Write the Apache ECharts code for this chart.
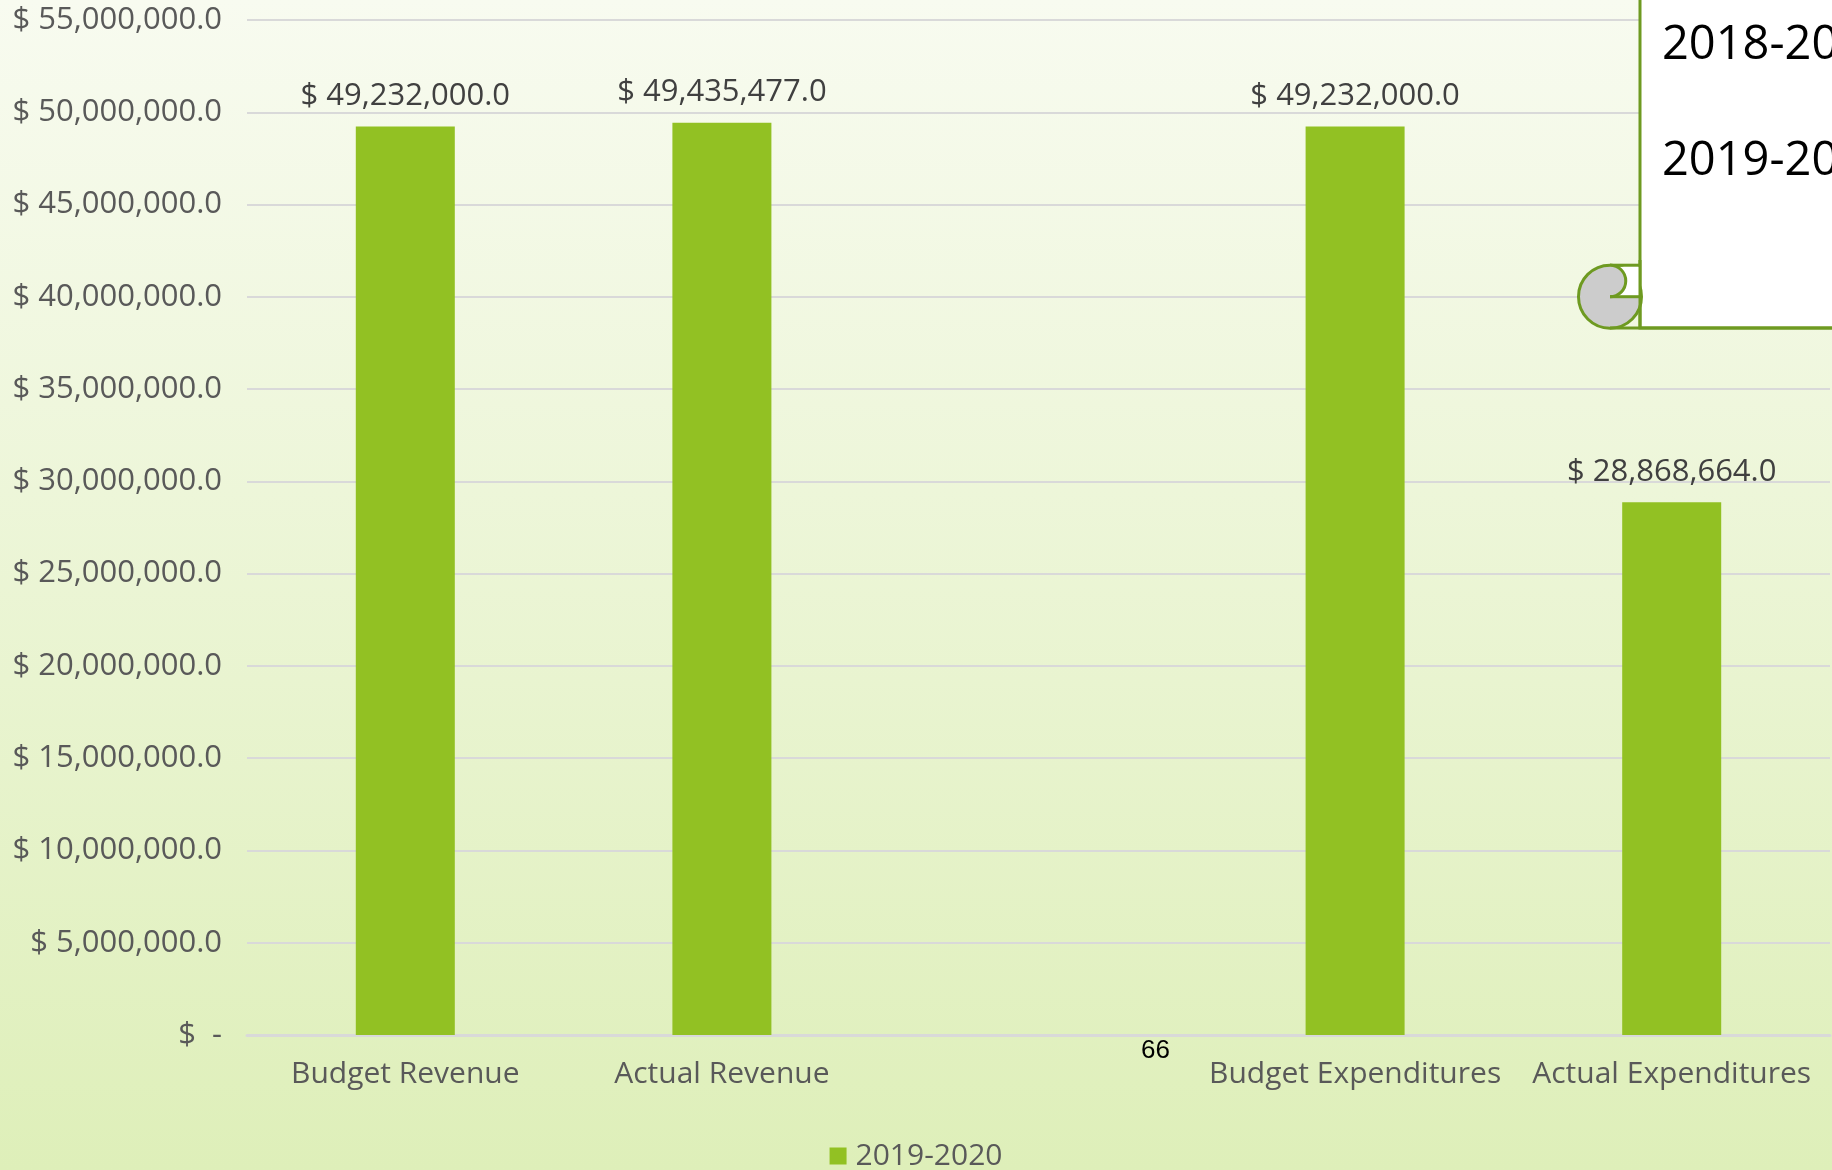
<!DOCTYPE html>
<html>
<head>
<meta charset="utf-8">
<script src="https://cdn.jsdelivr.net/npm/echarts@6/dist/echarts.min.js"></script>
<style>
html,body{margin:0;padding:0;width:1832px;height:1170px;overflow:hidden;}
#chart{width:1832px;height:1170px;}
</style>
</head>
<body>
<div id="chart"></div>
<script>
// ---- data ----
var categories = ['Budget Revenue', 'Actual Revenue', '', 'Budget Expenditures', 'Actual Expenditures'];
var values2019_2020 = [49232000, 49435477, null, 49232000, 28868664];
var seriesName = '2019-2020';
var yMin = 0, yMax = 55000000, yInterval = 5000000;
var calloutLines = ['2018-2019', '2019-2020'];
var pageNumber = '66';

function money(v) {
  if (v === 0) return '$  -';
  return '$ ' + v.toLocaleString('en-US', {minimumFractionDigits: 1, maximumFractionDigits: 1});
}

var FONT = '"Open Sans", "Liberation Sans", sans-serif';
var GREEN = '#6E9A21';

var chart = echarts.init(document.getElementById('chart'));
chart.setOption({
  backgroundColor: {
    type: 'linear', x: 0, y: 0, x2: 0, y2: 1,
    colorStops: [{offset: 0, color: '#F8FBF0'}, {offset: 1, color: '#DEEFB9'}]
  },
  animation: false,
  textStyle: {fontFamily: FONT},
  grid: {left: 247, right: 2, top: 20, bottom: 135, containLabel: false},
  legend: {
    top: 1136, left: 'center',
    itemWidth: 17, itemHeight: 17, itemGap: 10,
    icon: 'rect',
    textStyle: {fontFamily: FONT, fontSize: 30, color: '#595959', padding: [0, 0, 0, 4]},
    data: [seriesName]
  },
  xAxis: {
    type: 'category',
    data: categories,
    axisTick: {show: false},
    axisLine: {show: true, lineStyle: {color: '#D9D9D9', width: 3}},
    axisLabel: {fontFamily: FONT, fontSize: 30, color: '#595959', margin: 24, interval: 0}
  },
  yAxis: {
    type: 'value',
    min: yMin, max: yMax, interval: yInterval,
    axisLine: {show: false},
    axisTick: {show: false},
    splitLine: {lineStyle: {color: '#D9D9D9', width: 2}},
    axisLabel: {fontFamily: FONT, fontSize: 31, color: '#595959', margin: 25, formatter: money}
  },
  series: [{
    name: seriesName,
    type: 'bar',
    data: values2019_2020,
    barWidth: 99,
    itemStyle: {color: '#92C123'},
    label: {
      show: true, position: 'top', distance: 15,
      fontFamily: FONT, fontSize: 31, color: '#404040',
      formatter: function (p) { return money(p.value); }
    }
  }],
  graphic: [
    {type: 'rect', z: 100, shape: {x: 1640, y: -10, width: 300, height: 338},
     style: {fill: '#FFFFFF', stroke: GREEN, lineWidth: 3}},
    {type: 'circle', z: 101, shape: {cx: 1610, cy: 296.7, r: 31.5},
     style: {fill: '#CCCCCC', stroke: GREEN, lineWidth: 3}},
    {type: 'rect', z: 102, shape: {x: 1611, y: 266.7, width: 28, height: 30},
     style: {fill: '#FFFFFF', stroke: null}},
    {type: 'line', z: 103, shape: {x1: 1610, y1: 265.2, x2: 1641, y2: 265.2},
     style: {stroke: GREEN, lineWidth: 3}},
    {type: 'sector', z: 104, shape: {cx: 1610, cy: 280.95, r: 15.75, r0: 0,
      startAngle: -Math.PI / 2, endAngle: Math.PI / 2, clockwise: true},
     style: {fill: '#CCCCCC', stroke: null}},
    {type: 'arc', z: 105, shape: {cx: 1610, cy: 280.95, r: 15.75,
      startAngle: -Math.PI / 2, endAngle: Math.PI / 2, clockwise: true},
     style: {fill: null, stroke: GREEN, lineWidth: 3}},
    {type: 'line', z: 105, shape: {x1: 1610, y1: 296.7, x2: 1640, y2: 296.7},
     style: {stroke: GREEN, lineWidth: 3}},
    {type: 'line', z: 105, shape: {x1: 1640, y1: 260, x2: 1640, y2: 328},
     style: {stroke: GREEN, lineWidth: 3}},
    {type: 'line', z: 105, shape: {x1: 1610, y1: 328, x2: 1840, y2: 328},
     style: {stroke: GREEN, lineWidth: 3}},
    {type: 'text', z: 106, style: {x: 1662, y: 46, text: calloutLines[0], fill: '#000000',
      font: '47px "Open Sans", sans-serif', verticalAlign: 'middle', align: 'left'}},
    {type: 'text', z: 106, style: {x: 1662, y: 162, text: calloutLines[1], fill: '#000000',
      font: '47px "Open Sans", sans-serif', verticalAlign: 'middle', align: 'left'}},
    {type: 'text', z: 106, style: {x: 1141, y: 1051, text: pageNumber, fill: '#000000',
      font: '26px "Liberation Sans", Arial, sans-serif', verticalAlign: 'middle', align: 'left'}}
  ]
});
</script>
</body>
</html>
